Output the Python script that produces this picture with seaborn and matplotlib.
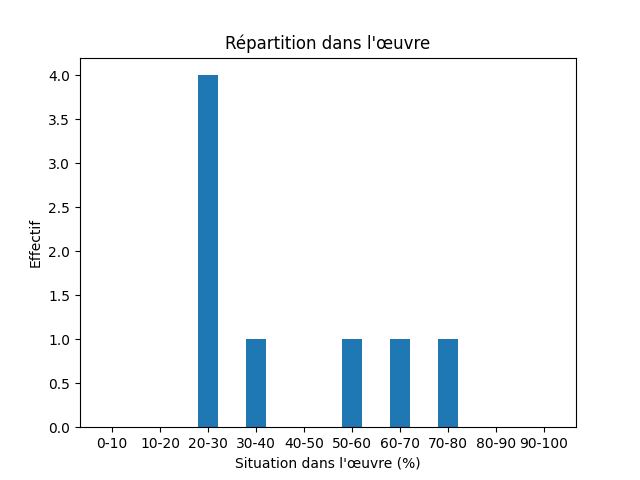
import matplotlib
matplotlib.use("Agg")
import matplotlib.pyplot as plt
import seaborn as sns
import pandas as pd

categories = ["0-10","10-20","20-30","30-40","40-50","50-60","60-70","70-80","80-90","90-100"]
counts = [0, 0, 4, 1, 0, 1, 1, 1, 0, 0]

df = pd.DataFrame({"cat": categories, "n": counts})
fig, ax = plt.subplots(figsize=(6.4, 4.8), dpi=100)
sns.barplot(data=df, x="cat", y="n", color="#1f77b4", saturation=1, width=0.4, ax=ax)
ax.set_xlim(-0.67, len(categories) - 1 + 0.67)
ax.set_ylim(0, 4.2)
ax.set_yticks([0, 0.5, 1, 1.5, 2, 2.5, 3, 3.5, 4])
ax.set_yticklabels([f"{v:.1f}" for v in [0, 0.5, 1, 1.5, 2, 2.5, 3, 3.5, 4]])
ax.set_title("Répartition dans l'œuvre")
ax.set_xlabel("Situation dans l'œuvre (%)")
ax.set_ylabel("Effectif")
fig.savefig("out.png", dpi=100)
